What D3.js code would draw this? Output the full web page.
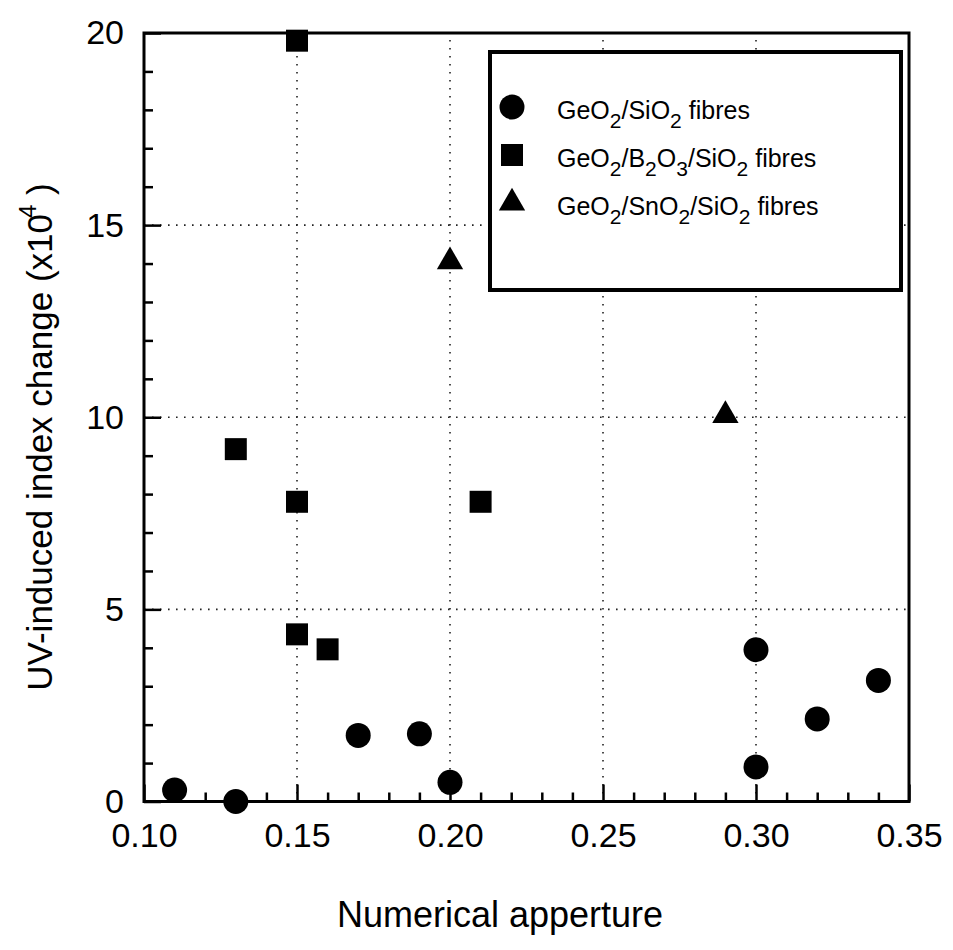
<!DOCTYPE html>
<html>
<head>
<meta charset="utf-8">
<script src="https://cdn.jsdelivr.net/npm/d3@7"></script>
<style>
  body { margin: 0; background: #fff; }
  svg text { font-family: "Liberation Sans", Arial, Helvetica, sans-serif; fill: #000; }
</style>
</head>
<body>
<svg id="chart" width="953" height="950"></svg>
<script>
// data
var geSiNA = [0.11, 0.13, 0.17, 0.19, 0.20, 0.30, 0.30, 0.32, 0.34];
var geSiDn = [0.3, 0.0, 1.72, 1.76, 0.5, 3.95, 0.9, 2.15, 3.15];

var geBNA = [0.15, 0.13, 0.15, 0.15, 0.16, 0.21];
var geBDn = [19.8, 9.17, 7.8, 4.35, 3.96, 7.8];

var geSnNA = [0.20, 0.29];
var geSnDn = [14.05, 10.05];

var xTicks = [0.10, 0.15, 0.20, 0.25, 0.30, 0.35];
var yTicks = [0, 5, 10, 15, 20];
var xGrid = [0.15, 0.20, 0.25, 0.30];
var yGrid = [5, 10, 15];

var legendItems = [
  { shape: "circle", parts: [["GeO", 0], ["2", 1], ["/SiO", 0], ["2", 1], [" fibres", 0]] },
  { shape: "square", parts: [["GeO", 0], ["2", 1], ["/B", 0], ["2", 1], ["O", 0], ["3", 1], ["/SiO", 0], ["2", 1], [" fibres", 0]] },
  { shape: "triangle", parts: [["GeO", 0], ["2", 1], ["/SnO", 0], ["2", 1], ["/SiO", 0], ["2", 1], [" fibres", 0]] }
];

var svg = d3.select("#chart");
var x = d3.scaleLinear().domain([0.10, 0.35]).range([144, 909]);
var y = d3.scaleLinear().domain([0, 20]).range([801.5, 33]);

// dotted grid
var grid = svg.append("g").attr("stroke", "#222").attr("stroke-width", 1.6)
  .attr("stroke-dasharray", "1.6,6.4");
grid.selectAll(".gx").data(xGrid).join("line")
  .attr("x1", d => x(d)).attr("x2", d => x(d))
  .attr("y1", y(0)).attr("y2", y(20));
grid.selectAll(".gy").data(yGrid).join("line")
  .attr("y1", d => y(d)).attr("y2", d => y(d))
  .attr("x1", x(0.10)).attr("x2", x(0.35));

// minor ticks
var minorX = d3.range(11, 35).filter(d => d % 5 != 0).map(d => d / 100);
var minorY = d3.range(1, 20).filter(d => d % 5 != 0);

svg.append("g")
  .attr("transform", `translate(0,${y(0)})`)
  .call(d3.axisBottom(x).tickValues(minorX).tickSize(-9).tickFormat(""))
  .call(g => g.select(".domain").remove())
  .selectAll("line").attr("stroke-width", 2.5);
svg.append("g")
  .attr("transform", `translate(${x(0.10)},0)`)
  .call(d3.axisLeft(y).tickValues(minorY).tickSize(-9).tickFormat(""))
  .call(g => g.select(".domain").remove())
  .selectAll("line").attr("stroke-width", 2.5);

// major ticks + labels
var xAxis = svg.append("g")
  .attr("transform", `translate(0,${y(0)})`)
  .call(d3.axisBottom(x).tickValues(xTicks).tickSize(-17).tickPadding(21).tickFormat(d3.format(".2f")));
xAxis.select(".domain").remove();
xAxis.selectAll("line").attr("stroke-width", 2.5);
xAxis.selectAll("text").attr("font-size", 34).attr("font-family", null);

var yAxis = svg.append("g")
  .attr("transform", `translate(${x(0.10)},0)`)
  .call(d3.axisLeft(y).tickValues(yTicks).tickSize(-17).tickPadding(20));
yAxis.select(".domain").remove();
yAxis.selectAll("line").attr("stroke-width", 2.5);
yAxis.selectAll("text").attr("font-size", 34).attr("font-family", null);

// frame
svg.append("rect")
  .attr("x", x(0.10)).attr("y", y(20))
  .attr("width", x(0.35) - x(0.10)).attr("height", y(0) - y(20))
  .attr("fill", "none").attr("stroke", "#000").attr("stroke-width", 3);

// axis titles
svg.append("text")
  .attr("x", 500).attr("y", 927)
  .attr("text-anchor", "middle").attr("font-size", 36)
  .text("Numerical apperture");

var yt = svg.append("text")
  .attr("transform", "translate(52,437) rotate(-90)")
  .attr("text-anchor", "middle").attr("font-size", 35);
yt.append("tspan").text("UV-induced index change (x10");
yt.append("tspan").attr("dy", -16).attr("dx", -4).attr("font-size", 24).text("4");
yt.append("tspan").attr("dy", 16).text(" )");

// markers
var symCircle = d3.symbol().type(d3.symbolCircle).size(Math.PI * 12.5 * 12.5);
var symSquare = d3.symbol().type(d3.symbolSquare).size(22 * 22);
var symTri = d3.symbol().type(d3.symbolTriangle).size(300);

svg.append("g").selectAll("path")
  .data(d3.zip(geSiNA, geSiDn)).join("path")
  .attr("transform", d => `translate(${x(d[0])},${y(d[1])})`)
  .attr("d", symCircle).attr("fill", "#000");
svg.append("g").selectAll("path")
  .data(d3.zip(geBNA, geBDn)).join("path")
  .attr("transform", d => `translate(${x(d[0])},${y(d[1])})`)
  .attr("d", symSquare).attr("fill", "#000");
svg.append("g").selectAll("path")
  .data(d3.zip(geSnNA, geSnDn)).join("path")
  .attr("transform", d => `translate(${x(d[0])},${y(d[1])})`)
  .attr("d", symTri).attr("fill", "#000");

// legend
var leg = svg.append("g");
leg.append("rect")
  .attr("x", 490).attr("y", 52).attr("width", 411).attr("height", 238)
  .attr("fill", "#fff").attr("stroke", "#000").attr("stroke-width", 4);

var symFor = { circle: symCircle, square: symSquare, triangle: symTri };
legendItems.forEach(function (item, i) {
  var cy = 107 + i * 48;
  leg.append("path")
    .attr("transform", `translate(512,${cy})`)
    .attr("d", symFor[item.shape]).attr("fill", "#000");
  var t = leg.append("text")
    .attr("x", 557).attr("y", cy + 12)
    .attr("font-size", 25);
  var low = false;
  item.parts.forEach(function (p) {
    var shift = 0;
    if (p[1] && !low) { shift = 9; low = true; }
    else if (!p[1] && low) { shift = -9; low = false; }
    t.append("tspan").attr("dy", shift)
      .attr("font-size", p[1] ? 21 : 25).text(p[0]);
  });
});
</script>
</body>
</html>
